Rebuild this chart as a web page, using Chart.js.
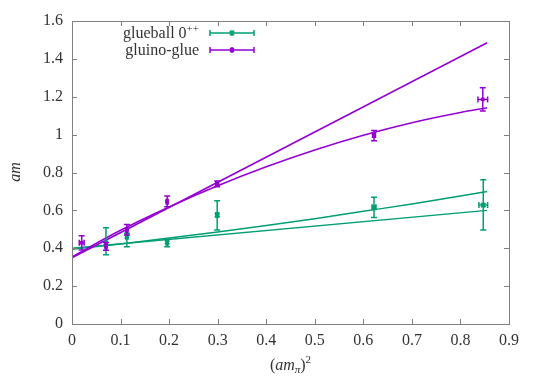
<!DOCTYPE html>
<html>
<head>
<meta charset="utf-8">
<script src="https://cdn.jsdelivr.net/npm/chart.js@4.4.1/dist/chart.umd.min.js"></script>
<style>
  html, body { margin: 0; padding: 0; background: #fff; }
  #wrap { width: 540px; height: 379px; }
</style>
</head>
<body>
<div id="wrap"><canvas id="chart"></canvas></div>
<script>
const glueX = [0.070, 0.113, 0.196, 0.299, 0.622, 0.847];
const glueY = [0.425, 0.461, 0.431, 0.575, 0.616, 0.628];
const glueLow = [0.366, 0.408, 0.408, 0.496, 0.563, 0.496];
const glueHigh = [0.508, 0.479, 0.447, 0.651, 0.669, 0.762];
const glueXErr = [0.002, 0.002, 0.002, 0.003, 0.004, 0.009];

const gluinoX = [0.020, 0.070, 0.113, 0.196, 0.299, 0.622, 0.846];
const gluinoY = [0.429, 0.410, 0.496, 0.646, 0.739, 0.998, 1.186];
const gluinoLow = [0.391, 0.390, 0.470, 0.619, 0.725, 0.968, 1.125];
const gluinoHigh = [0.466, 0.430, 0.526, 0.676, 0.755, 1.022, 1.248];
const gluinoXErr = [0.005, 0.002, 0.002, 0.002, 0.003, 0.003, 0.010];

// fit curves
const fitX = [0, 0.1, 0.2, 0.3, 0.4, 0.5, 0.6, 0.7, 0.8, 0.855];
const gluinoCurve = [0.355, 0.495, 0.618, 0.730, 0.830, 0.919, 0.997, 1.063, 1.117, 1.142];
const glueCurve = [0.395, 0.423, 0.454, 0.486, 0.520, 0.556, 0.595, 0.634, 0.676, 0.700];
const lineX = [0, 0.855];
const gluinoLine = [0.350, 1.485];
const glueLine = [0.400, 0.600];

const xTickLabels = ['0', '0.1', '0.2', '0.3', '0.4', '0.5', '0.6', '0.7', '0.8', '0.9'];
const yTickLabels = ['0', '0.2', '0.4', '0.6', '0.8', '1', '1.2', '1.4', '1.6'];

const GREEN = '#009e73';
const PURPLE = '#9400d3';
const FONT = '"Liberation Serif", "DejaVu Serif", serif';

function points(xs, ys, lo, hi, xe) {
    return xs.map((x, i) => ({ x: x, y: ys[i], yMin: lo[i], yMax: hi[i], xMin: x - xe[i], xMax: x + xe[i] }));
}

function curve(xs, ys) {
    return xs.map((x, i) => ({ x: x, y: ys[i] }));
}

// error bars for the point datasets
const errorBars = {
    id: 'errorBars',
    afterDatasetsDraw(chart) {
        const ctx = chart.ctx;
        const xs = chart.scales.x, ys = chart.scales.y;
        chart.data.datasets.forEach(ds => {
            if (!ds.errorBars) return;
            ctx.save();
            ctx.strokeStyle = ds.borderColor;
            ctx.lineWidth = 1.5;
            ds.data.forEach(p => {
                const px = xs.getPixelForValue(p.x), py = ys.getPixelForValue(p.y);
                const t = ys.getPixelForValue(p.yMax), b = ys.getPixelForValue(p.yMin);
                const l = xs.getPixelForValue(p.xMin), r = xs.getPixelForValue(p.xMax);
                ctx.beginPath();
                ctx.moveTo(px, t); ctx.lineTo(px, b);
                ctx.moveTo(px - 3, t); ctx.lineTo(px + 3, t);
                ctx.moveTo(px - 3, b); ctx.lineTo(px + 3, b);
                ctx.moveTo(l, py); ctx.lineTo(r, py);
                ctx.moveTo(l, py - 3); ctx.lineTo(l, py + 3);
                ctx.moveTo(r, py - 3); ctx.lineTo(r, py + 3);
                ctx.stroke();
            });
            ctx.restore();
        });
    }
};

// gnuplot style frame: border with inward ticks on all sides, axis titles, key
const frame = {
    id: 'frame',
    afterDraw(chart) {
        const ctx = chart.ctx;
        const a = chart.chartArea;
        const xs = chart.scales.x, ys = chart.scales.y;
        ctx.save();
        ctx.strokeStyle = '#808080';
        ctx.lineWidth = 1;
        ctx.strokeRect(Math.round(a.left) + 0.5, Math.round(a.top) + 0.5,
            Math.round(a.right - a.left), Math.round(a.bottom - a.top));
        ctx.beginPath();
        xs.ticks.forEach(t => {
            const x = Math.round(xs.getPixelForValue(t.value)) + 0.5;
            ctx.moveTo(x, a.bottom); ctx.lineTo(x, a.bottom - 5);
            ctx.moveTo(x, a.top); ctx.lineTo(x, a.top + 5);
        });
        ys.ticks.forEach(t => {
            const y = Math.round(ys.getPixelForValue(t.value)) + 0.5;
            ctx.moveTo(a.left, y); ctx.lineTo(a.left + 5, y);
            ctx.moveTo(a.right, y); ctx.lineTo(a.right - 5, y);
        });
        ctx.stroke();

        // axis titles
        ctx.fillStyle = '#333';
        ctx.textBaseline = 'alphabetic';
        ctx.save();
        ctx.translate(20, 172);
        ctx.rotate(-Math.PI / 2);
        ctx.textAlign = 'center';
        ctx.font = 'italic 16px ' + FONT;
        ctx.fillText('am', 0, 0);
        ctx.restore();

        const parts = [
            { t: '(', f: '16px ' + FONT, dy: 0 },
            { t: 'am', f: 'italic 16px ' + FONT, dy: 0 },
            { t: 'π', f: 'italic 11px ' + FONT, dy: 3 },
            { t: ')', f: '16px ' + FONT, dy: 0 },
            { t: '2', f: '11px ' + FONT, dy: -7 }
        ];
        let w = 0;
        parts.forEach(p => { ctx.font = p.f; w += ctx.measureText(p.t).width; });
        let x = (a.left + a.right) / 2 - w / 2;
        ctx.textAlign = 'left';
        parts.forEach(p => {
            ctx.font = p.f;
            ctx.fillText(p.t, x, 370 + p.dy);
            x += ctx.measureText(p.t).width;
        });

        // key
        const keys = [
            { label: 'glueball 0', sup: '++', color: GREEN, style: 'crossRot', y: 33 },
            { label: 'gluino-glue', sup: '', color: PURPLE, style: 'rect', y: 50 }
        ];
        keys.forEach(k => {
            ctx.fillStyle = '#333';
            ctx.textAlign = 'right';
            let right = 199;
            if (k.sup) {
                ctx.font = '11px ' + FONT;
                ctx.fillText(k.sup, right, k.y - 1);
                right -= ctx.measureText(k.sup).width;
            }
            ctx.font = '16px ' + FONT;
            ctx.fillText(k.label, right, k.y + 5);

            ctx.strokeStyle = k.color;
            ctx.lineWidth = 1.5;
            ctx.beginPath();
            ctx.moveTo(210, k.y); ctx.lineTo(254, k.y);
            ctx.moveTo(210, k.y - 3); ctx.lineTo(210, k.y + 3);
            ctx.moveTo(254, k.y - 3); ctx.lineTo(254, k.y + 3);
            ctx.moveTo(232, k.y - 3); ctx.lineTo(232, k.y + 3);
            ctx.stroke();
            ctx.fillStyle = k.color;
            Chart.helpers.drawPoint(ctx, { pointStyle: k.style, radius: k.style === 'rect' ? 2 : 3, borderWidth: 2 }, 232, k.y);
        });
        ctx.restore();
    }
};

document.addEventListener('DOMContentLoaded', function () {
    const canvas = document.getElementById('chart');

    new Chart(canvas, {
        type: 'scatter',
        data: {
            datasets: [
                {
                    label: 'glueball 0++',
                    data: points(glueX, glueY, glueLow, glueHigh, glueXErr),
                    borderColor: GREEN,
                    backgroundColor: GREEN,
                    pointStyle: 'crossRot',
                    pointRadius: 3,
                    borderWidth: 2,
                    errorBars: true
                },
                {
                    label: 'gluino-glue',
                    data: points(gluinoX, gluinoY, gluinoLow, gluinoHigh, gluinoXErr),
                    borderColor: PURPLE,
                    backgroundColor: PURPLE,
                    pointStyle: 'rect',
                    pointRadius: 2,
                    borderWidth: 1,
                    errorBars: true
                },
                {
                    data: curve(lineX, gluinoLine),
                    showLine: true, pointRadius: 0, borderColor: PURPLE, borderWidth: 1.5
                },
                {
                    data: curve(fitX, gluinoCurve),
                    showLine: true, pointRadius: 0, borderColor: PURPLE, borderWidth: 1.5,
                    cubicInterpolationMode: 'monotone'
                },
                {
                    data: curve(lineX, glueLine),
                    showLine: true, pointRadius: 0, borderColor: GREEN, borderWidth: 1.5
                },
                {
                    data: curve(fitX, glueCurve),
                    showLine: true, pointRadius: 0, borderColor: GREEN, borderWidth: 1.5,
                    cubicInterpolationMode: 'monotone'
                }
            ]
        },
        options: {
            responsive: true,
            maintainAspectRatio: false,
            animation: false,
            events: [],
            layout: {
                padding: { left: 0, top: 21, right: 31, bottom: 0 }
            },
            plugins: {
                legend: { display: false },
                tooltip: { enabled: false }
            },
            scales: {
                x: {
                    type: 'linear',
                    min: 0,
                    max: 0.9,
                    grid: { display: false, drawTicks: false },
                    border: { display: false },
                    afterFit: function (scale) { scale.height = 55; },
                    ticks: {
                        stepSize: 0.1,
                        padding: 7,
                        color: '#333',
                        font: { family: FONT, size: 16 },
                        callback: (v, i) => xTickLabels[i]
                    }
                },
                y: {
                    type: 'linear',
                    min: 0,
                    max: 1.6,
                    grid: { display: false, drawTicks: false },
                    border: { display: false },
                    afterFit: function (scale) { scale.width = 72; },
                    ticks: {
                        stepSize: 0.2,
                        padding: 9,
                        color: '#333',
                        font: { family: FONT, size: 16 },
                        callback: (v, i) => yTickLabels[i]
                    }
                }
            }
        },
        plugins: [errorBars, frame]
    });
});
</script>
</body>
</html>
